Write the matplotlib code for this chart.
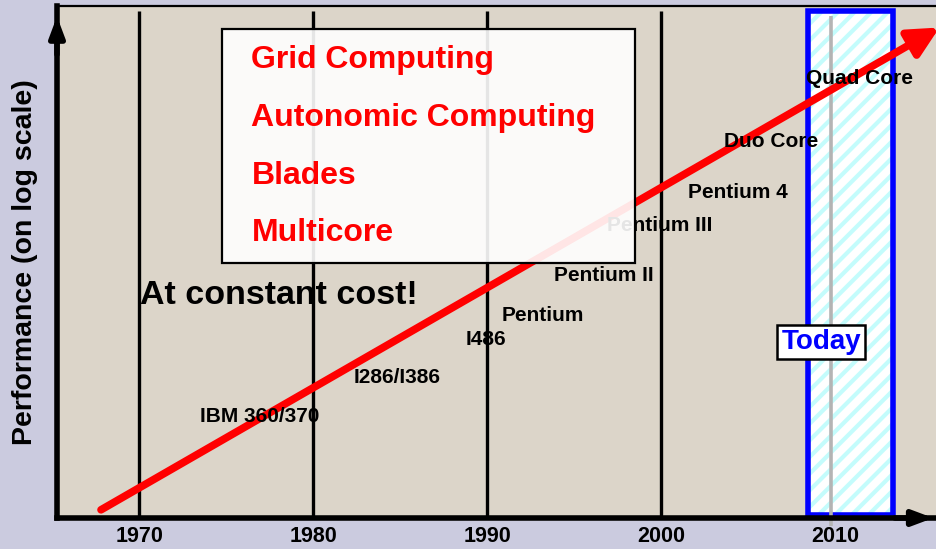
import matplotlib
matplotlib.use("Agg")
import matplotlib.pyplot as plt
from matplotlib.patches import Rectangle

plt.rcParams['font.family'] = ['Liberation Sans', 'DejaVu Sans']
plt.rcParams['font.weight'] = 'bold'
plt.rcParams['hatch.linewidth'] = 3.0

# ---- data ----
decade_years = [1970, 1980, 1990, 2000]
tick_years = [1970, 1980, 1990, 2000, 2010]
tick_labels = ["1970", "1980", "1990", "2000", "2010"]

cpu_labels = ["IBM 360/370", "I286/I386", "I486", "Pentium", "Pentium II",
              "Pentium III", "Pentium 4", "Duo Core", "Quad Core"]
cpu_years = [1976.95, 1984.8, 1989.9, 1993.2, 1996.7, 1999.9, 2004.4, 2006.3, 2011.4]
cpu_perf = [19.9, 27.5, 34.8, 39.6, 47.3, 57.2, 63.5, 73.6, 85.9]

trend_years = [1967.8, 2016.0]
trend_perf = [1.6, 95.8]

themes = ["Grid Computing", "Autonomic Computing", "Blades", "Multicore"]
theme_perf = [89.4, 78.1, 66.8, 55.7]

today_year = 2009.75
today_window = [2008.46, 2013.35]

BG = '#CBCBDF'
PANEL = '#DCD5C9'

fig = plt.figure(figsize=(9.36, 5.49), dpi=100, facecolor=BG)
ax = fig.add_axes([57/936, 1-518/549, 1-57/936, 512/549])
ax.set_facecolor(PANEL)
ax.set_xlim(1965.27, 2015.8)
ax.set_ylim(0, 100)

# spines
ax.spines['right'].set_visible(False)
ax.spines['top'].set_linewidth(1.6)
ax.spines['left'].set_linewidth(4)
ax.spines['bottom'].set_linewidth(4)

ax.set_yticks([])
ax.set_xticks(tick_years)
ax.set_xticklabels(tick_labels, fontsize=15.5, fontweight='bold')
ax.tick_params(axis='x', length=0, pad=6)
ax.set_ylabel("Performance (on log scale)", fontsize=20.5, fontweight='bold', labelpad=14)

# axis arrowheads
ax.annotate('', xy=(0, 0.985), xytext=(0, 0.9), xycoords='axes fraction',
            arrowprops=dict(arrowstyle='-|>,head_length=1.2,head_width=0.45', color='black', lw=4),
            annotation_clip=False, zorder=10)
ax.annotate('', xy=(1.0, 0), xytext=(0.95, 0), xycoords='axes fraction',
            arrowprops=dict(arrowstyle='-|>,head_length=1.2,head_width=0.45', color='black', lw=4),
            annotation_clip=False, zorder=10)

# decade lines
for yr in decade_years:
    ax.plot([yr, yr], [0, 99], color='black', lw=2.4, zorder=1, solid_capstyle='butt')

# today window
ax.add_patch(Rectangle((today_window[0], 0.6), today_window[1]-today_window[0], 98.4,
                       facecolor='white', edgecolor='#C4FCFC', hatch='//', lw=0, zorder=2))
ax.add_patch(Rectangle((today_window[0], 0.6), today_window[1]-today_window[0], 98.4,
                       facecolor='none', edgecolor='#0000FF', lw=4, zorder=2.2))
ax.plot([today_year, today_year], [-1.5, 98], color='#B4B4B4', lw=2.6, zorder=2.3,
        clip_on=False, solid_capstyle='butt')

# trend arrow
ax.annotate('', xy=(trend_years[1], trend_perf[1]), xytext=(trend_years[0], trend_perf[0]),
            xycoords='data',
            arrowprops=dict(arrowstyle='-|>,head_length=1.8,head_width=0.9', color='#FF0000',
                            lw=5.5, shrinkA=0, shrinkB=0),
            annotation_clip=False, zorder=3)

# cpu labels
for lab, x, y in zip(cpu_labels, cpu_years, cpu_perf):
    ax.text(x, y, lab, fontsize=15, fontweight='bold', ha='center', va='center',
            color='black', zorder=4)

# themes box
ax.add_patch(Rectangle((1974.75, 49.8), 23.75, 45.7, facecolor='white', alpha=0.9,
                       edgecolor='none', zorder=5))
ax.add_patch(Rectangle((1974.75, 49.8), 23.75, 45.7, facecolor='none',
                       edgecolor='black', lw=1.6, zorder=5.1))
for t, y in zip(themes, theme_perf):
    ax.text(1976.45, y, t, fontsize=23, fontweight='bold', color='#FF0000',
            ha='left', va='center', zorder=6)

ax.text(1970.05, 43.4, "At constant cost!", fontsize=24.5, fontweight='bold',
        color='black', ha='left', va='center', zorder=6)

ax.text(2009.2, 34.4, "Today", fontsize=20, fontweight='bold', color='#0000FF',
        ha='center', va='center', zorder=7,
        bbox=dict(boxstyle='square,pad=0.15', facecolor='white', edgecolor='black', lw=1.8))

fig.savefig("out.png", dpi=100, facecolor=BG)
